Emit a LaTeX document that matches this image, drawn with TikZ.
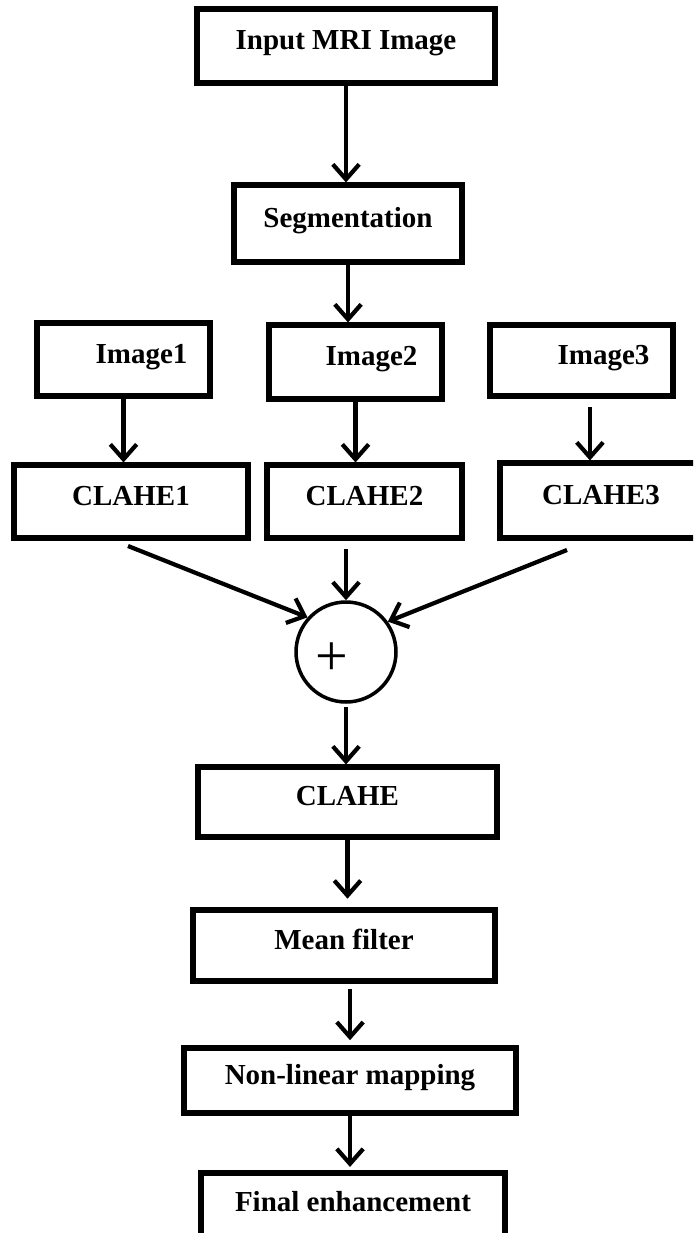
\documentclass[tikz,border=0pt]{standalone}
\usepackage{fontspec}
\setmainfont{Liberation Serif}
\usetikzlibrary{arrows.meta}

\begin{document}
\begin{tikzpicture}[x=0.02cm,y=-0.02cm,
  box/.style={draw, line width=2.9pt, inner sep=0pt, text height=0.68em, text depth=0.28em,
    font=\bfseries\fontsize{16.5}{19}\selectfont},
  arr/.style={line width=2.4pt, -{Straight Barb[length=8.5pt,width=15pt,line join=miter]}}]
\useasboundingbox (0,0) rectangle (693,1233);
\clip (0,0) rectangle (693,1233);

\node[box, minimum width=5.96cm, minimum height=1.48cm] (inp) at (346,46) {Input MRI Image};
\node[box, minimum width=4.56cm, minimum height=1.54cm] (seg) at (348,223.5) {Segmentation};

\node[box, minimum width=3.46cm, minimum height=1.46cm] (img1) at (123.5,359.5) {\hspace*{0.72cm}Image1};
\node[box, minimum width=3.46cm, minimum height=1.48cm] (img2) at (355.5,362) {\hspace*{0.64cm}Image2};
\node[box, minimum width=3.66cm, minimum height=1.42cm] (img3) at (581.5,360.5) {\hspace*{0.88cm}Image3};

\node[box, minimum width=4.68cm, minimum height=1.46cm] (cl1) at (131,501.5) {CLAHE1};
\node[box, minimum width=3.90cm, minimum height=1.46cm] (cl2) at (364.5,501.5) {CLAHE2};
\node[box, minimum width=4.04cm, minimum height=1.50cm] (cl3) at (601,500.5) {CLAHE3};

% adder
\node[draw, circle, line width=2pt, minimum size=2cm, inner sep=0pt,
  font=\fontsize{33}{35}\selectfont] (sum) at (346,652) {\raisebox{-13.5pt}[0pt][0pt]{+}\hspace*{0.56cm}};

\node[box, minimum width=5.98cm, minimum height=1.40cm] (clahe) at (347.5,802) {CLAHE};
\node[box, minimum width=6.04cm, minimum height=1.42cm] (mean) at (344,945.5) {Mean filter};
\node[box, minimum width=6.64cm, minimum height=1.30cm] (nonlin) at (350,1080.5) {Non-linear mapping};
\node[box, minimum width=6.08cm, minimum height=1.40cm] (final) at (353,1208) {Final enhancement};

\coordinate (c1out) at (128,546);
\coordinate (c3out) at (567,550);

\draw[arr] (inp.south) -- (inp.south |- seg.north);
\draw[arr] (seg.south) -- (seg.south |- img2.north);
\draw[arr] (img1.south) -- (img1.south |- cl1.north);
\draw[arr] (img2.south) -- (img2.south |- cl2.north);
\draw[arr, shorten <=5pt] ([xshift=4.8pt]img3.south) -- ([xshift=4.8pt]img3.south |- cl3.north);

\draw[arr] (c1out) -- (sum.138);
\draw[arr, shorten <=5pt] (sum.north |- cl2.south) -- (sum.north);
\draw[arr] (c3out) -- (sum.36);

\draw[arr, shorten <=2pt] (sum.south) -- (sum.south |- clahe.north);
\draw[arr, shorten >=5pt] (clahe.south) -- (clahe.south |- mean.north);
\draw[arr, shorten <=3pt, shorten >=3pt] (nonlin.north |- mean.south) -- (nonlin.north);
\draw[arr, shorten >=2pt] (nonlin.south) -- (nonlin.south |- final.north);

\end{tikzpicture}
\end{document}
